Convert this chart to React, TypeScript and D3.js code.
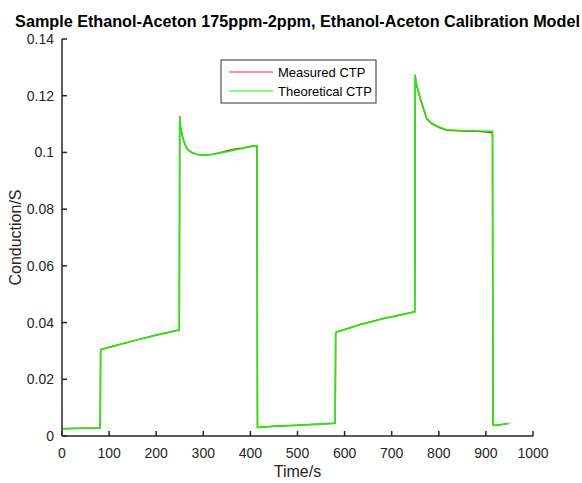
import React from "react";
import * as d3 from "d3";

// time (s) for every sample of both traces
const timeS = [0, 40, 81, 82, 83, 120, 160, 200, 249, 250, 251, 254, 257, 263, 268, 276, 286, 300, 320, 335, 355, 371, 385, 399, 414, 415, 416, 450, 500, 550, 580, 581, 583, 610, 633, 660, 682, 710, 749, 750, 751, 754, 757, 760, 764, 769, 774, 785, 799, 817, 849, 880, 912, 914, 915, 917, 930, 948];

const measured = [0.0026, 0.0027, 0.0028, 0.0300, 0.0305, 0.0322, 0.0339, 0.0356, 0.0374, 0.1126, 0.1097, 0.1071, 0.1047, 0.1020, 0.1008, 0.0999, 0.0993, 0.0991, 0.0994, 0.0999, 0.1008, 0.1013, 0.1016, 0.1021, 0.1024, 0.0030, 0.0030, 0.0034, 0.0038, 0.0042, 0.0045, 0.0360, 0.0367, 0.0381, 0.0393, 0.0405, 0.0414, 0.0424, 0.0438, 0.1272, 0.1253, 0.1230, 0.1212, 0.1193, 0.1172, 0.1146, 0.1120, 0.1101, 0.1089, 0.1078, 0.1076, 0.1075, 0.1070, 0.1062, 0.0040, 0.0037, 0.0040, 0.0044];

const theoretical = [0.0026, 0.0027, 0.0028, 0.0300, 0.0305, 0.0322, 0.0339, 0.0355, 0.0374, 0.1121, 0.1095, 0.1070, 0.1048, 0.1022, 0.1009, 0.1000, 0.0994, 0.0991, 0.0993, 0.0998, 0.1004, 0.1010, 0.1015, 0.1020, 0.1024, 0.0030, 0.0030, 0.0034, 0.0038, 0.0042, 0.0045, 0.0360, 0.0367, 0.0380, 0.0393, 0.0404, 0.0414, 0.0423, 0.0438, 0.1273, 0.1255, 0.1232, 0.1214, 0.1195, 0.1175, 0.1148, 0.1122, 0.1103, 0.1091, 0.1080, 0.1077, 0.1076, 0.1075, 0.1074, 0.0040, 0.0037, 0.0040, 0.0044];

const xTicks = [0, 100, 200, 300, 400, 500, 600, 700, 800, 900, 1000];
const yTicks = [0, 0.02, 0.04, 0.06, 0.08, 0.1, 0.12, 0.14];
const seriesNames = ["Measured CTP", "Theoretical CTP"];
const seriesColors = ["#ff2020", "#00ff00"];

const W = 582, H = 483;
const left = 62, right = 533, top = 39, bottom = 436;
const axisColor = "#262626";
const font = "'Liberation Sans', Arial, sans-serif";

export default function App() {
  const x = d3.scaleLinear().domain([0, 1000]).range([left, right]);
  const y = d3.scaleLinear().domain([0, 0.14]).range([bottom, top]);

  const line = d3.line<number>()
    .x((d, i) => x(timeS[i]))
    .y(d => y(d));

  const series = [measured, theoretical];

  return (
    <svg width={W} height={H} style={{ position: "absolute", left: 0, top: 0, background: "#fff" }}
      fontFamily={font}>
      <rect x={0} y={0} width={W} height={H} fill="#fff" />
      <text x={(left + right) / 2} y={27} textAnchor="middle" fontSize={16.2} fontWeight="bold" fill="#000">
        Sample Ethanol-Aceton 175ppm-2ppm, Ethanol-Aceton Calibration Model
      </text>

      {series.map((s, k) => (
        <path key={k} d={line(s) || ""} fill="none" stroke={seriesColors[k]} strokeWidth={1.5}
          strokeLinejoin="round" />
      ))}

      {/* axes, box off, ticks inward */}
      <line x1={left} x2={right} y1={bottom} y2={bottom} stroke={axisColor} strokeWidth={1.5} />
      <line x1={left} x2={left} y1={top} y2={bottom} stroke={axisColor} strokeWidth={1.5} />
      {xTicks.map(t => (
        <g key={t}>
          <line x1={x(t)} x2={x(t)} y1={bottom} y2={bottom - 5} stroke={axisColor} strokeWidth={1.5} />
          <text x={x(t)} y={bottom + 22} textAnchor="middle" fontSize={14} fill={axisColor}>{t}</text>
        </g>
      ))}
      {yTicks.map(t => (
        <g key={t}>
          <line x1={left} x2={left + 5} y1={y(t)} y2={y(t)} stroke={axisColor} strokeWidth={1.5} />
          <text x={left - 8} y={y(t) + 5} textAnchor="end" fontSize={14} fill={axisColor}>{t}</text>
        </g>
      ))}
      <text x={(left + right) / 2} y={477} textAnchor="middle" fontSize={16} fill={axisColor}>Time/s</text>
      <text transform={`translate(21,${(top + bottom) / 2}) rotate(-90)`} textAnchor="middle" fontSize={16}
        fill={axisColor}>Conduction/S</text>

      {/* legend */}
      <rect x={221} y={60} width={155} height={43} fill="#fff" stroke="#333" strokeWidth={1} />
      {seriesNames.map((n, k) => (
        <g key={n}>
          <line x1={229} x2={273} y1={72 + k * 19} y2={72 + k * 19} stroke={seriesColors[k]} strokeWidth={1.2} />
          <text x={278} y={77 + k * 19} fontSize={13} fill="#000">{n}</text>
        </g>
      ))}
    </svg>
  );
}
